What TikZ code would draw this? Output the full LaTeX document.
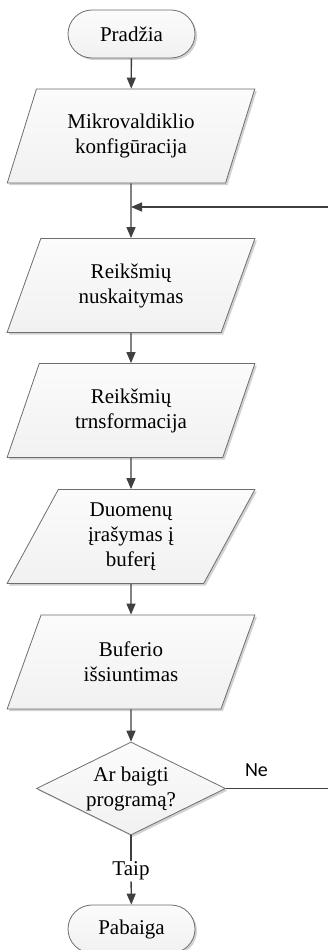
\documentclass[tikz,border=0pt]{standalone}
\usepackage{fontspec}
\setmainfont{Liberation Serif}
\newfontfamily\labelfont{Carlito}
\usetikzlibrary{shapes.geometric,shapes.misc,arrows.meta,shadows}

\definecolor{linecol}{HTML}{404040}
\definecolor{edgecol}{HTML}{6E6E6E}

\tikzset{
  box/.style={draw=edgecol, line width=0.8pt, top color=gray!3, bottom color=gray!11,
    drop shadow={shadow xshift=2pt, shadow yshift=-2pt, opacity=0.18, fill=black},
    align=center, inner sep=0pt, font=\fontsize{21}{25}\selectfont},
  terminal/.style={box, rounded rectangle, minimum width=127pt, minimum height=48pt},
  iobox/.style={box, trapezium, trapezium left angle=66, trapezium right angle=114,
    trapezium stretches=true, minimum width=248pt, minimum height=94pt},
  decision/.style={box, diamond, aspect=2.03, minimum width=189pt, minimum height=93pt},
  flow/.style={draw=linecol, line width=1.3pt, -{Triangle[length=11pt,width=9pt]}},
  plain/.style={draw=linecol, line width=1.3pt},
}

\begin{document}
\begin{tikzpicture}[x=1pt, y=-1pt]
  \useasboundingbox (0,0) rectangle (328,950);
  \clip (0,0) rectangle (328,950);
  \fill[white] (0,0) rectangle (328,950);

  % process steps
  \node[terminal] (start) at (131.5,34) {Pradžia};
  \node[iobox] (cfg) at (131,136) {Mikrovaldiklio\\konfigūracija};
  \node[iobox] (read) at (131,285.5) {Reikšmių\\nuskaitymas};
  \node[iobox] (trans) at (131,410.5) {Reikšmių\\trnsformacija};
  \node[iobox] (store) at (131,536.5) {Duomenų\\įrašymas į\\buferį};
  \node[iobox] (send) at (131,662) {Buferio\\išsiuntimas};
  \node[decision] (ask) at (131,788.5) {Ar baigti\\programą?};
  \node[terminal] (stop) at (131.5,929) {Pabaiga};

  % loop-back junction and the off-page ends of the return line
  \coordinate (join) at (131,207);
  \coordinate (backin) at (328,207);
  \coordinate (backout) at (328,788.5);

  % connectors
  \draw[flow] (start) -- (cfg);
  \draw[flow] (cfg) -- (read);
  \draw[flow] (backin) -- (join);
  \draw[flow] (read) -- (trans);
  \draw[flow] (trans) -- (store);
  \draw[flow] (store) -- (send);
  \draw[flow] (send) -- (ask);
  \draw[plain] (ask.east) -- (backout);

  \node[fill=white, inner sep=1pt, font=\fontsize{21}{25}\selectfont] (yes) at (131,871) {Taip};
  \draw[plain] (ask) -- (yes);
  \draw[flow] (yes) -- (stop);

  \node[font=\labelfont\fontsize{20}{24}\selectfont] (no) at (256.5,770) {Ne};
\end{tikzpicture}
\end{document}
